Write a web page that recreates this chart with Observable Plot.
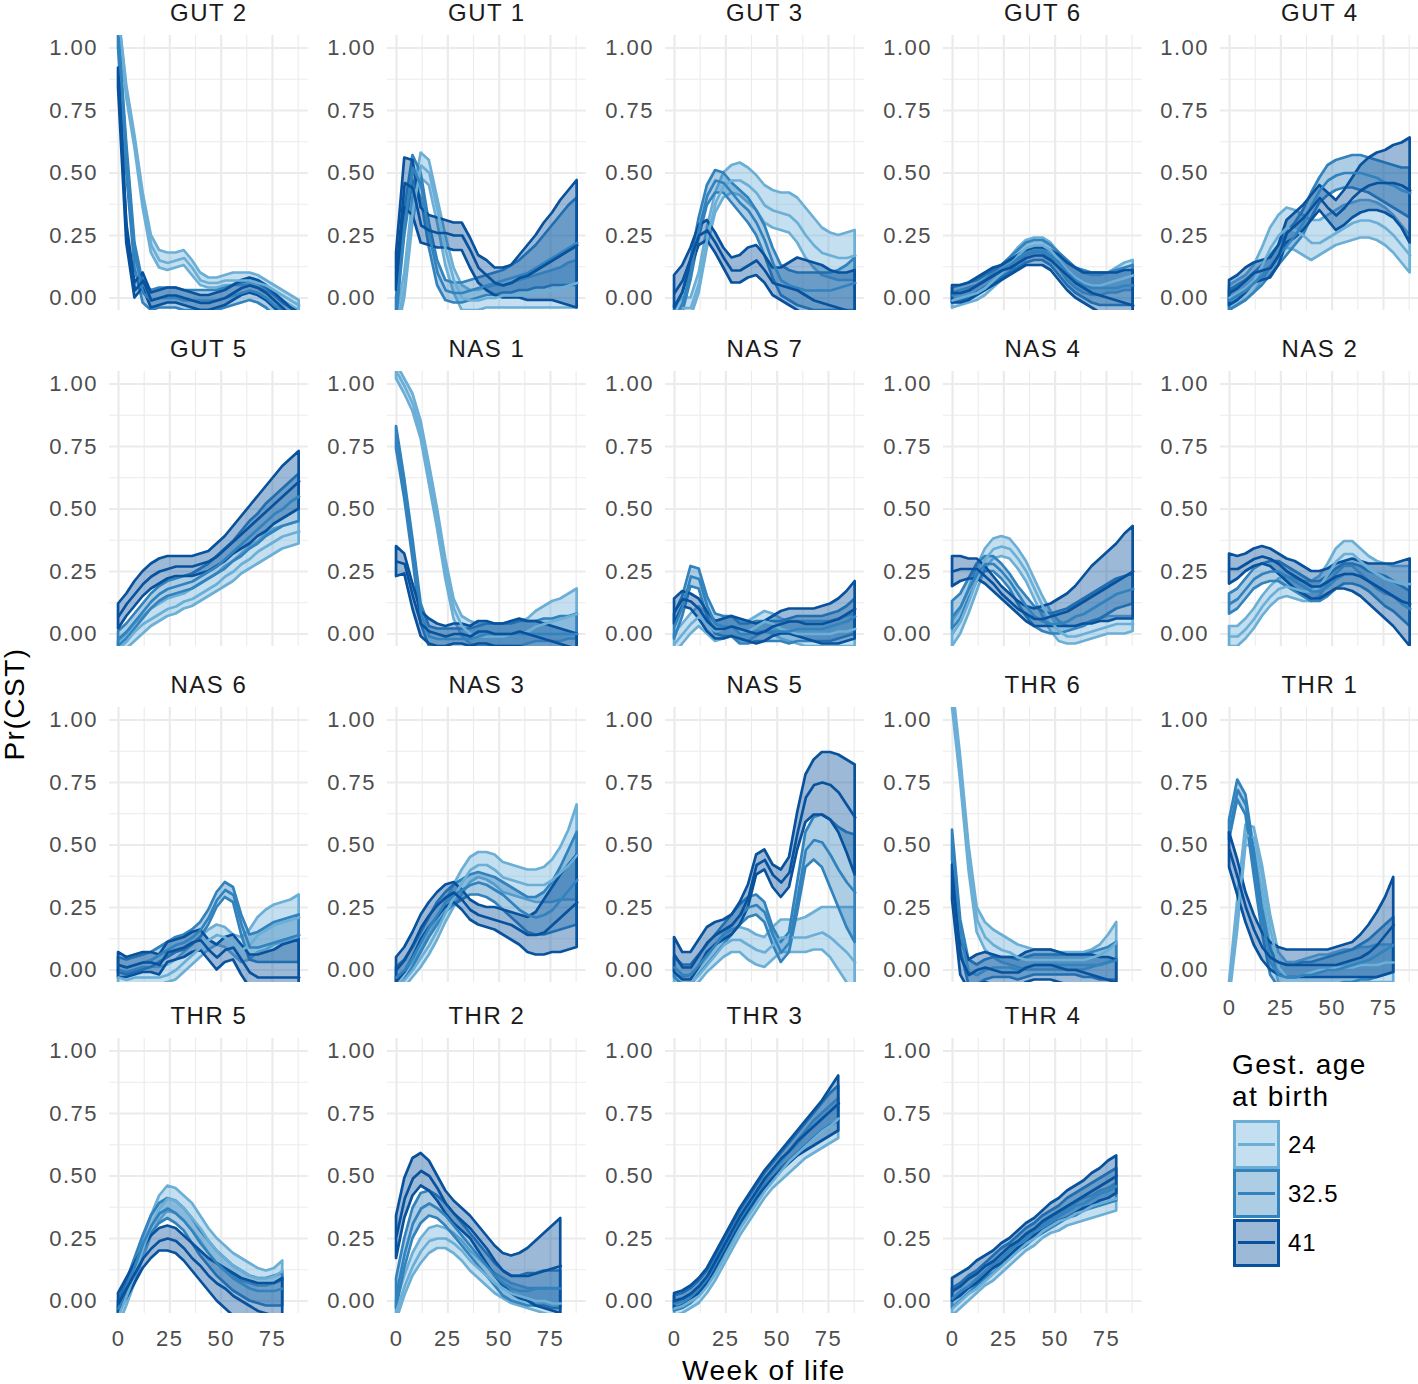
<!DOCTYPE html>
<html><head><meta charset="utf-8">
<script src="https://cdn.jsdelivr.net/npm/d3@7"></script>
<script src="https://cdn.jsdelivr.net/npm/@observablehq/plot@0.6"></script>
<style>
body{margin:0;background:#fff;}
#wrap{position:relative;width:1418px;height:1384px;overflow:hidden;background:#fff;font-family:"Liberation Sans",Arial,sans-serif;}
.abs{position:absolute;}
.abs svg{max-width:none !important;}
.ttl{font-size:28px;line-height:24px;letter-spacing:1.5px;color:#000;white-space:nowrap;}
.leg{font-size:28px;line-height:32px;letter-spacing:1.5px;color:#000;white-space:nowrap;}
.lab{font-size:24px;line-height:24px;letter-spacing:1px;color:#000;white-space:nowrap;}
</style></head><body><div id="wrap"></div>
<script>
// ---------- data ----------
const weeksGN = [0,4,8,12,16,20,24,28,32,36,40,44,48,52,56,60,64,68,72,76,80,84,88];
const weeksTHR = [0,4,8,12,16,20,24,28,32,36,40,44,48,52,56,60,64,68,72,76,80];
const groups = ["24","32.5","41"];
const groupColors = ["#6baed6","#3182bd","#08519c"];
const yTicks = [0,0.25,0.5,0.75,1];
const yMinor = [0.125,0.375,0.625,0.875];
const xTicks = [0,25,50,75];
const xMinor = [12.5,37.5,62.5,87.5];
// each panel: [hi24, mid24, lo24, hi32.5, mid32.5, lo32.5, hi41, mid41, lo41]
const GUT_2 = [
[1.15,0.85,0.65,0.42,0.25,0.19,0.18,0.18,0.19,0.15,0.10,0.08,0.08,0.09,0.10,0.10,0.10,0.09,0.07,0.05,0.03,0.01,-0.01],
[1.12,0.82,0.62,0.39,0.21,0.15,0.14,0.15,0.16,0.12,0.07,0.06,0.06,0.07,0.07,0.07,0.07,0.06,0.05,0.03,0.01,-0.01,-0.03],
[1.10,0.80,0.60,0.36,0.18,0.12,0.11,0.12,0.13,0.09,0.05,0.04,0.04,0.05,0.05,0.05,0.05,0.04,0.03,0.01,-0.01,-0.03,-0.05],
[1.08,0.62,0.22,0.06,0.03,0.04,0.04,0.04,0.03,0.03,0.03,0.03,0.03,0.04,0.05,0.06,0.07,0.06,0.04,0.01,-0.02,-0.04,-0.06],
[1.04,0.56,0.17,0.02,-0.01,0.00,0.00,0.00,-0.01,-0.01,-0.01,-0.01,-0.01,0.00,0.01,0.02,0.03,0.02,0.00,-0.03,-0.05,-0.07,-0.09],
[1.00,0.50,0.12,-0.02,-0.05,-0.04,-0.04,-0.04,-0.05,-0.05,-0.05,-0.05,-0.05,-0.04,-0.03,-0.02,-0.01,-0.02,-0.04,-0.07,-0.09,-0.11,-0.13],
[0.92,0.30,0.06,0.10,0.02,0.03,0.04,0.04,0.03,0.02,0.01,0.01,0.02,0.03,0.05,0.07,0.08,0.07,0.05,0.02,-0.01,-0.04,-0.06],
[0.88,0.26,0.03,0.07,-0.01,0.00,0.01,0.01,0.00,-0.01,-0.02,-0.02,-0.01,0.00,0.02,0.04,0.05,0.04,0.02,-0.01,-0.04,-0.07,-0.09],
[0.84,0.22,0.00,0.04,-0.04,-0.03,-0.02,-0.02,-0.03,-0.04,-0.05,-0.05,-0.04,-0.03,-0.01,0.01,0.02,0.01,-0.01,-0.04,-0.07,-0.10,-0.12]];
const GUT_1 = [
[-0.08,0.10,0.40,0.58,0.55,0.40,0.25,0.12,0.05,0.03,0.03,0.04,0.05,0.05,0.06,0.07,0.08,0.09,0.10,0.11,0.12,0.14,0.15],
[-0.12,0.05,0.35,0.53,0.50,0.35,0.19,0.07,0.00,-0.01,-0.01,0.00,0.00,0.01,0.01,0.01,0.02,0.02,0.03,0.03,0.04,0.05,0.06],
[-0.16,0.00,0.30,0.48,0.45,0.30,0.13,0.02,-0.05,-0.05,-0.05,-0.04,-0.04,-0.04,-0.04,-0.04,-0.04,-0.04,-0.04,-0.04,-0.04,-0.04,-0.04],
[0.00,0.35,0.57,0.50,0.30,0.15,0.07,0.06,0.06,0.07,0.08,0.09,0.10,0.11,0.13,0.15,0.18,0.21,0.25,0.29,0.33,0.37,0.40],
[-0.04,0.30,0.52,0.45,0.25,0.10,0.03,0.02,0.02,0.03,0.04,0.05,0.06,0.07,0.08,0.09,0.10,0.12,0.14,0.16,0.18,0.20,0.22],
[-0.08,0.25,0.47,0.40,0.20,0.05,-0.01,-0.02,-0.02,-0.01,0.00,0.01,0.01,0.02,0.02,0.03,0.03,0.04,0.04,0.05,0.05,0.05,0.05],
[0.18,0.56,0.55,0.36,0.33,0.32,0.31,0.30,0.30,0.24,0.17,0.15,0.12,0.12,0.13,0.17,0.21,0.25,0.30,0.34,0.39,0.43,0.47],
[0.10,0.46,0.44,0.29,0.27,0.26,0.26,0.25,0.25,0.19,0.12,0.09,0.06,0.05,0.06,0.08,0.09,0.11,0.13,0.15,0.17,0.19,0.21],
[0.03,0.36,0.33,0.22,0.21,0.20,0.20,0.19,0.19,0.12,0.06,0.03,0.01,0.00,0.00,0.00,-0.01,-0.01,-0.01,-0.01,-0.02,-0.03,-0.04]];
const GUT_3 = [
[-0.03,0.00,0.00,0.10,0.28,0.42,0.50,0.53,0.54,0.52,0.49,0.45,0.43,0.42,0.42,0.40,0.36,0.32,0.28,0.26,0.25,0.26,0.27],
[-0.07,-0.04,-0.04,0.06,0.24,0.38,0.45,0.47,0.47,0.45,0.42,0.37,0.35,0.34,0.33,0.30,0.25,0.21,0.18,0.17,0.16,0.16,0.17],
[-0.11,-0.08,-0.08,0.02,0.20,0.34,0.40,0.42,0.41,0.38,0.35,0.30,0.28,0.27,0.26,0.22,0.16,0.12,0.09,0.08,0.07,0.07,0.07],
[-0.05,0.02,0.15,0.32,0.45,0.51,0.50,0.46,0.43,0.40,0.35,0.29,0.20,0.13,0.11,0.10,0.10,0.10,0.10,0.10,0.11,0.13,0.16],
[-0.09,-0.02,0.11,0.28,0.41,0.47,0.46,0.42,0.38,0.35,0.30,0.23,0.14,0.07,0.05,0.04,0.03,0.03,0.03,0.03,0.04,0.05,0.06],
[-0.13,-0.06,0.07,0.24,0.37,0.42,0.42,0.38,0.34,0.30,0.25,0.17,0.08,0.01,-0.01,-0.03,-0.04,-0.05,-0.05,-0.05,-0.05,-0.05,-0.05],
[0.09,0.13,0.20,0.29,0.31,0.26,0.20,0.16,0.17,0.20,0.21,0.17,0.12,0.12,0.14,0.16,0.15,0.14,0.13,0.11,0.10,0.10,0.11],
[0.02,0.07,0.16,0.25,0.27,0.22,0.16,0.11,0.11,0.13,0.15,0.11,0.06,0.05,0.04,0.03,0.01,-0.01,-0.02,-0.03,-0.04,-0.05,-0.06],
[-0.04,0.02,0.12,0.21,0.23,0.18,0.12,0.06,0.06,0.08,0.09,0.06,0.01,-0.01,-0.03,-0.05,-0.07,-0.09,-0.10,-0.12,-0.13,-0.15,-0.16]];
const GUT_6 = [
[0.02,0.03,0.04,0.05,0.07,0.10,0.13,0.16,0.20,0.23,0.24,0.24,0.22,0.18,0.15,0.12,0.10,0.09,0.09,0.10,0.12,0.14,0.15],
[-0.01,0.00,0.01,0.02,0.04,0.07,0.10,0.13,0.17,0.20,0.21,0.21,0.19,0.15,0.11,0.08,0.06,0.05,0.05,0.06,0.07,0.08,0.09],
[-0.04,-0.03,-0.02,-0.01,0.01,0.04,0.07,0.10,0.14,0.17,0.18,0.18,0.16,0.12,0.07,0.04,0.02,0.01,0.01,0.02,0.02,0.03,0.03],
[0.04,0.05,0.06,0.07,0.09,0.11,0.13,0.16,0.19,0.22,0.23,0.23,0.21,0.18,0.15,0.12,0.11,0.10,0.10,0.10,0.11,0.12,0.13],
[0.01,0.02,0.03,0.05,0.07,0.09,0.11,0.13,0.16,0.18,0.19,0.19,0.17,0.14,0.10,0.07,0.05,0.04,0.04,0.04,0.04,0.05,0.05],
[-0.02,-0.01,0.00,0.02,0.04,0.06,0.08,0.10,0.12,0.14,0.15,0.15,0.13,0.09,0.05,0.02,0.00,-0.02,-0.03,-0.03,-0.03,-0.03,-0.03],
[0.05,0.05,0.06,0.08,0.10,0.12,0.13,0.15,0.17,0.19,0.20,0.20,0.19,0.17,0.14,0.12,0.10,0.10,0.10,0.10,0.10,0.11,0.11],
[0.02,0.02,0.03,0.05,0.07,0.09,0.11,0.12,0.14,0.16,0.17,0.17,0.15,0.12,0.09,0.06,0.04,0.02,0.01,0.00,-0.01,-0.02,-0.03],
[-0.02,-0.02,-0.01,0.01,0.03,0.05,0.07,0.09,0.11,0.13,0.13,0.13,0.11,0.07,0.03,0.00,-0.02,-0.04,-0.06,-0.08,-0.10,-0.12,-0.14]];
const GUT_4 = [
[0.05,0.07,0.09,0.13,0.20,0.28,0.33,0.36,0.35,0.33,0.31,0.31,0.33,0.35,0.37,0.38,0.39,0.39,0.38,0.36,0.33,0.29,0.25],
[0.00,0.02,0.04,0.07,0.13,0.20,0.25,0.28,0.27,0.25,0.22,0.22,0.24,0.26,0.28,0.30,0.31,0.31,0.30,0.28,0.25,0.21,0.17],
[-0.05,-0.03,-0.01,0.02,0.07,0.12,0.17,0.20,0.19,0.17,0.15,0.17,0.19,0.21,0.22,0.23,0.24,0.24,0.23,0.21,0.18,0.14,0.10],
[0.03,0.05,0.07,0.10,0.13,0.17,0.21,0.26,0.30,0.35,0.42,0.48,0.53,0.55,0.56,0.57,0.57,0.56,0.55,0.54,0.53,0.52,0.52],
[-0.01,0.01,0.03,0.06,0.09,0.13,0.17,0.21,0.25,0.30,0.37,0.43,0.47,0.49,0.50,0.50,0.50,0.49,0.48,0.46,0.45,0.43,0.42],
[-0.05,-0.03,-0.01,0.02,0.05,0.09,0.13,0.17,0.21,0.25,0.32,0.38,0.41,0.43,0.44,0.44,0.43,0.42,0.40,0.38,0.36,0.34,0.32],
[0.07,0.09,0.12,0.14,0.15,0.16,0.21,0.31,0.34,0.37,0.41,0.45,0.42,0.39,0.43,0.48,0.53,0.56,0.58,0.59,0.61,0.62,0.64],
[0.02,0.04,0.07,0.10,0.11,0.12,0.17,0.26,0.29,0.32,0.36,0.40,0.36,0.33,0.36,0.40,0.43,0.45,0.46,0.46,0.46,0.45,0.43],
[-0.03,-0.01,0.02,0.06,0.07,0.08,0.13,0.22,0.24,0.27,0.31,0.35,0.31,0.27,0.29,0.32,0.34,0.35,0.35,0.34,0.32,0.28,0.22]];
const GUT_5 = [
[-0.03,0.00,0.04,0.07,0.10,0.12,0.14,0.15,0.16,0.18,0.20,0.22,0.24,0.27,0.29,0.32,0.35,0.37,0.40,0.42,0.43,0.44,0.45],
[-0.06,-0.03,0.01,0.04,0.06,0.08,0.10,0.11,0.13,0.14,0.16,0.18,0.20,0.23,0.25,0.28,0.30,0.33,0.35,0.37,0.39,0.40,0.41],
[-0.09,-0.06,-0.03,0.00,0.03,0.05,0.07,0.08,0.10,0.11,0.13,0.15,0.17,0.19,0.21,0.24,0.26,0.28,0.30,0.32,0.34,0.35,0.36],
[0.01,0.04,0.08,0.12,0.16,0.19,0.21,0.22,0.23,0.24,0.26,0.28,0.31,0.34,0.37,0.41,0.45,0.48,0.52,0.55,0.58,0.61,0.64],
[-0.02,0.01,0.05,0.09,0.13,0.16,0.18,0.19,0.20,0.21,0.23,0.25,0.27,0.30,0.33,0.36,0.39,0.42,0.45,0.48,0.50,0.53,0.55],
[-0.05,-0.02,0.02,0.06,0.10,0.13,0.15,0.16,0.17,0.18,0.20,0.22,0.24,0.26,0.29,0.31,0.34,0.36,0.39,0.41,0.43,0.44,0.45],
[0.12,0.16,0.21,0.25,0.28,0.30,0.31,0.31,0.31,0.31,0.32,0.33,0.36,0.39,0.43,0.47,0.51,0.55,0.59,0.63,0.67,0.70,0.73],
[0.07,0.12,0.16,0.20,0.23,0.25,0.26,0.27,0.27,0.27,0.28,0.29,0.31,0.34,0.37,0.40,0.43,0.46,0.49,0.52,0.55,0.58,0.61],
[0.02,0.07,0.11,0.15,0.18,0.20,0.22,0.23,0.23,0.23,0.24,0.25,0.27,0.29,0.32,0.34,0.36,0.39,0.41,0.44,0.46,0.48,0.50]];
const NAS_1 = [
[1.08,1.02,0.96,0.85,0.68,0.50,0.30,0.14,0.07,0.05,0.04,0.04,0.04,0.04,0.05,0.05,0.06,0.09,0.11,0.13,0.14,0.16,0.18],
[1.05,0.99,0.92,0.81,0.64,0.46,0.26,0.10,0.03,0.00,-0.01,-0.01,-0.01,-0.01,0.00,0.00,0.01,0.03,0.04,0.05,0.06,0.07,0.08],
[1.02,0.96,0.89,0.78,0.60,0.42,0.22,0.06,-0.01,-0.04,-0.05,-0.06,-0.06,-0.06,-0.05,-0.05,-0.04,-0.03,-0.03,-0.03,-0.03,-0.02,-0.02],
[0.83,0.62,0.38,0.12,0.03,0.02,0.02,0.02,0.02,0.02,0.03,0.04,0.04,0.04,0.04,0.05,0.05,0.05,0.06,0.06,0.07,0.07,0.08],
[0.79,0.58,0.34,0.08,-0.01,-0.02,-0.02,-0.02,-0.02,-0.02,-0.01,0.00,0.00,0.00,0.00,0.00,0.00,0.00,0.00,0.00,0.00,0.00,0.00],
[0.74,0.54,0.30,0.04,-0.05,-0.06,-0.06,-0.06,-0.06,-0.06,-0.05,-0.05,-0.05,-0.05,-0.05,-0.06,-0.06,-0.07,-0.07,-0.08,-0.08,-0.09,-0.09],
[0.35,0.32,0.20,0.09,0.06,0.04,0.03,0.04,0.04,0.03,0.05,0.05,0.04,0.04,0.05,0.06,0.05,0.05,0.04,0.03,0.02,0.01,0.00],
[0.29,0.28,0.15,0.04,0.01,0.00,-0.01,0.00,0.00,-0.01,0.01,0.01,0.00,0.00,0.00,0.01,0.00,-0.01,-0.02,-0.03,-0.04,-0.05,-0.06],
[0.23,0.24,0.10,-0.01,-0.04,-0.05,-0.05,-0.04,-0.04,-0.05,-0.04,-0.04,-0.05,-0.05,-0.05,-0.05,-0.06,-0.07,-0.08,-0.09,-0.10,-0.11,-0.12]];
const NAS_7 = [
[0.00,0.04,0.08,0.11,0.08,0.05,0.06,0.07,0.05,0.05,0.07,0.09,0.08,0.06,0.05,0.05,0.05,0.05,0.05,0.05,0.06,0.07,0.08],
[-0.04,0.00,0.04,0.07,0.04,0.01,0.02,0.03,0.01,0.01,0.03,0.05,0.04,0.02,0.01,0.00,0.00,0.00,0.00,0.00,0.01,0.01,0.02],
[-0.08,-0.04,0.00,0.03,0.00,-0.03,-0.02,-0.01,-0.03,-0.03,-0.01,0.01,0.00,-0.02,-0.03,-0.04,-0.05,-0.05,-0.05,-0.05,-0.05,-0.05,-0.05],
[0.08,0.15,0.27,0.26,0.15,0.08,0.07,0.07,0.04,0.04,0.05,0.05,0.05,0.05,0.06,0.07,0.07,0.07,0.07,0.08,0.09,0.11,0.14],
[0.03,0.11,0.23,0.22,0.11,0.04,0.03,0.03,0.00,0.00,0.01,0.01,0.01,0.01,0.01,0.02,0.02,0.02,0.02,0.03,0.04,0.05,0.07],
[-0.02,0.07,0.19,0.18,0.07,0.00,-0.01,-0.01,-0.04,-0.04,-0.03,-0.03,-0.03,-0.03,-0.04,-0.03,-0.03,-0.03,-0.03,-0.03,-0.02,-0.01,0.00],
[0.14,0.17,0.16,0.14,0.09,0.05,0.06,0.07,0.06,0.05,0.04,0.05,0.07,0.09,0.10,0.10,0.10,0.10,0.11,0.12,0.14,0.17,0.21],
[0.09,0.14,0.13,0.10,0.05,0.02,0.02,0.03,0.02,0.01,0.00,0.01,0.03,0.04,0.05,0.05,0.04,0.04,0.04,0.05,0.06,0.08,0.10],
[0.04,0.11,0.10,0.06,0.01,-0.02,-0.02,-0.01,-0.02,-0.03,-0.04,-0.03,-0.01,0.00,0.00,-0.01,-0.02,-0.03,-0.04,-0.04,-0.04,-0.03,-0.02]];
const NAS_4 = [
[0.05,0.10,0.18,0.27,0.34,0.38,0.39,0.38,0.34,0.29,0.22,0.15,0.09,0.05,0.03,0.03,0.04,0.05,0.06,0.07,0.07,0.07,0.07],
[0.00,0.05,0.13,0.22,0.30,0.34,0.35,0.34,0.30,0.25,0.18,0.11,0.05,0.01,-0.01,-0.01,0.00,0.01,0.02,0.03,0.04,0.04,0.04],
[-0.05,0.00,0.08,0.17,0.26,0.30,0.31,0.30,0.26,0.21,0.14,0.07,0.01,-0.03,-0.04,-0.04,-0.03,-0.02,-0.01,0.00,0.00,0.00,0.01],
[0.13,0.16,0.22,0.28,0.31,0.31,0.28,0.24,0.19,0.15,0.11,0.09,0.08,0.09,0.10,0.12,0.14,0.16,0.18,0.20,0.22,0.23,0.24],
[0.07,0.11,0.18,0.24,0.28,0.28,0.25,0.21,0.16,0.11,0.07,0.05,0.04,0.04,0.05,0.07,0.08,0.10,0.12,0.14,0.16,0.17,0.18],
[0.02,0.06,0.14,0.21,0.25,0.25,0.22,0.18,0.12,0.07,0.03,0.01,0.00,0.00,0.01,0.02,0.03,0.05,0.06,0.08,0.10,0.11,0.12],
[0.31,0.31,0.30,0.30,0.27,0.23,0.19,0.16,0.13,0.11,0.10,0.11,0.12,0.14,0.16,0.19,0.23,0.27,0.30,0.33,0.36,0.40,0.43],
[0.25,0.26,0.26,0.26,0.23,0.20,0.16,0.13,0.10,0.08,0.06,0.06,0.07,0.08,0.09,0.11,0.13,0.15,0.17,0.19,0.21,0.23,0.25],
[0.19,0.21,0.22,0.22,0.20,0.17,0.14,0.11,0.08,0.05,0.03,0.03,0.03,0.03,0.03,0.03,0.04,0.04,0.05,0.05,0.06,0.06,0.06]];
const NAS_2 = [
[0.03,0.03,0.06,0.10,0.15,0.19,0.22,0.23,0.22,0.21,0.21,0.23,0.28,0.34,0.37,0.37,0.34,0.31,0.29,0.28,0.27,0.27,0.27],
[-0.01,-0.01,0.02,0.06,0.11,0.15,0.18,0.19,0.18,0.17,0.17,0.19,0.24,0.29,0.32,0.32,0.29,0.26,0.24,0.22,0.21,0.20,0.20],
[-0.05,-0.05,-0.02,0.02,0.07,0.11,0.14,0.15,0.14,0.13,0.13,0.15,0.20,0.24,0.27,0.27,0.24,0.21,0.18,0.16,0.15,0.13,0.12],
[0.16,0.18,0.22,0.26,0.28,0.29,0.29,0.27,0.25,0.23,0.21,0.21,0.23,0.26,0.28,0.28,0.27,0.25,0.24,0.23,0.21,0.19,0.17],
[0.12,0.14,0.18,0.22,0.24,0.25,0.25,0.23,0.21,0.19,0.17,0.17,0.19,0.22,0.24,0.24,0.23,0.21,0.19,0.17,0.15,0.12,0.10],
[0.08,0.10,0.14,0.18,0.20,0.21,0.21,0.19,0.17,0.15,0.13,0.13,0.15,0.18,0.20,0.20,0.19,0.17,0.14,0.11,0.09,0.06,0.03],
[0.32,0.31,0.32,0.34,0.35,0.34,0.32,0.30,0.29,0.27,0.25,0.25,0.26,0.28,0.29,0.30,0.29,0.28,0.28,0.28,0.28,0.29,0.30],
[0.26,0.26,0.28,0.30,0.31,0.30,0.28,0.25,0.23,0.21,0.19,0.19,0.21,0.23,0.24,0.24,0.23,0.21,0.19,0.17,0.15,0.13,0.12],
[0.20,0.22,0.25,0.27,0.28,0.27,0.24,0.21,0.18,0.16,0.14,0.14,0.16,0.18,0.18,0.17,0.15,0.12,0.09,0.06,0.03,-0.01,-0.05]];
const NAS_6 = [
[0.00,-0.01,0.00,0.01,0.01,0.01,0.02,0.04,0.07,0.10,0.13,0.16,0.18,0.17,0.14,0.13,0.16,0.21,0.24,0.26,0.27,0.28,0.30],
[-0.03,-0.04,-0.03,-0.03,-0.03,-0.03,-0.02,0.00,0.03,0.06,0.09,0.12,0.14,0.13,0.10,0.08,0.10,0.14,0.16,0.18,0.19,0.20,0.21],
[-0.06,-0.07,-0.06,-0.06,-0.06,-0.06,-0.05,-0.04,-0.01,0.02,0.05,0.08,0.10,0.09,0.06,0.03,0.04,0.07,0.08,0.10,0.11,0.12,0.12],
[0.05,0.04,0.05,0.06,0.07,0.09,0.11,0.13,0.14,0.16,0.19,0.24,0.31,0.35,0.33,0.22,0.14,0.15,0.17,0.19,0.20,0.21,0.22],
[0.02,0.01,0.02,0.03,0.04,0.06,0.08,0.10,0.11,0.13,0.16,0.21,0.28,0.32,0.30,0.18,0.09,0.09,0.10,0.11,0.12,0.13,0.14],
[-0.01,-0.02,-0.01,0.00,0.01,0.03,0.05,0.07,0.08,0.10,0.13,0.18,0.25,0.29,0.27,0.14,0.04,0.03,0.03,0.03,0.03,0.03,0.03],
[0.07,0.05,0.06,0.07,0.07,0.06,0.11,0.12,0.13,0.15,0.16,0.12,0.10,0.13,0.14,0.10,0.06,0.06,0.07,0.08,0.10,0.11,0.12],
[0.02,0.01,0.02,0.03,0.03,0.02,0.07,0.08,0.09,0.11,0.12,0.08,0.05,0.08,0.09,0.04,-0.01,-0.03,-0.03,-0.03,-0.03,-0.03,-0.03],
[-0.03,-0.03,-0.02,-0.01,-0.01,-0.02,0.03,0.04,0.05,0.07,0.08,0.04,0.00,0.03,0.04,-0.02,-0.07,-0.10,-0.12,-0.14,-0.16,-0.18,-0.20]];
const NAS_3 = [
[-0.03,-0.01,0.03,0.08,0.14,0.20,0.27,0.34,0.40,0.45,0.47,0.47,0.46,0.43,0.42,0.41,0.40,0.40,0.41,0.44,0.49,0.56,0.66],
[-0.06,-0.04,0.00,0.05,0.10,0.16,0.23,0.29,0.35,0.40,0.42,0.42,0.40,0.37,0.36,0.35,0.34,0.34,0.34,0.36,0.39,0.42,0.46],
[-0.09,-0.07,-0.03,0.01,0.06,0.12,0.19,0.25,0.30,0.35,0.37,0.36,0.34,0.31,0.30,0.29,0.28,0.27,0.27,0.27,0.28,0.28,0.28],
[0.01,0.04,0.09,0.15,0.21,0.27,0.31,0.34,0.36,0.38,0.39,0.38,0.37,0.35,0.33,0.31,0.29,0.29,0.31,0.35,0.41,0.48,0.55],
[-0.03,0.00,0.05,0.11,0.17,0.22,0.27,0.30,0.32,0.34,0.35,0.34,0.32,0.30,0.27,0.24,0.22,0.21,0.22,0.24,0.28,0.32,0.36],
[-0.07,-0.04,0.01,0.07,0.13,0.18,0.23,0.26,0.28,0.30,0.30,0.29,0.27,0.24,0.21,0.18,0.15,0.14,0.14,0.15,0.16,0.17,0.18],
[0.05,0.09,0.15,0.22,0.27,0.31,0.34,0.35,0.32,0.28,0.26,0.25,0.25,0.24,0.23,0.22,0.21,0.23,0.28,0.33,0.38,0.42,0.46],
[0.00,0.04,0.10,0.17,0.22,0.26,0.29,0.31,0.28,0.24,0.22,0.21,0.20,0.19,0.18,0.16,0.14,0.14,0.15,0.18,0.21,0.24,0.27],
[-0.05,-0.01,0.05,0.12,0.17,0.21,0.25,0.27,0.24,0.20,0.18,0.17,0.16,0.14,0.12,0.10,0.07,0.06,0.06,0.07,0.07,0.08,0.09]];
const NAS_5 = [
[-0.02,-0.03,-0.02,0.01,0.05,0.10,0.14,0.16,0.17,0.16,0.14,0.13,0.17,0.20,0.20,0.20,0.21,0.23,0.25,0.25,0.25,0.25,0.25],
[-0.05,-0.06,-0.05,-0.02,0.02,0.06,0.10,0.12,0.12,0.10,0.08,0.07,0.10,0.13,0.13,0.13,0.13,0.14,0.15,0.13,0.10,0.07,0.03],
[-0.08,-0.09,-0.08,-0.05,-0.01,0.02,0.05,0.07,0.07,0.04,0.02,0.01,0.04,0.07,0.07,0.07,0.07,0.08,0.08,0.05,0.00,-0.05,-0.10],
[0.05,0.02,0.02,0.06,0.10,0.14,0.18,0.22,0.26,0.29,0.30,0.27,0.17,0.11,0.15,0.35,0.55,0.61,0.62,0.60,0.57,0.55,0.54],
[0.01,-0.02,-0.02,0.02,0.06,0.10,0.14,0.18,0.22,0.25,0.26,0.23,0.14,0.07,0.11,0.29,0.48,0.52,0.51,0.46,0.40,0.35,0.31],
[-0.03,-0.06,-0.06,-0.02,0.02,0.06,0.10,0.14,0.18,0.21,0.22,0.19,0.10,0.03,0.07,0.23,0.41,0.44,0.41,0.33,0.25,0.17,0.11],
[0.13,0.07,0.07,0.12,0.17,0.19,0.20,0.22,0.27,0.34,0.46,0.48,0.42,0.40,0.45,0.63,0.78,0.84,0.87,0.87,0.86,0.84,0.82],
[0.06,0.01,0.01,0.06,0.11,0.14,0.16,0.18,0.22,0.29,0.42,0.44,0.38,0.35,0.39,0.55,0.69,0.74,0.75,0.74,0.71,0.66,0.61],
[-0.01,-0.04,-0.04,0.01,0.07,0.10,0.12,0.14,0.18,0.25,0.38,0.40,0.33,0.29,0.33,0.48,0.59,0.62,0.62,0.60,0.55,0.47,0.38]];
const THR_6 = [
[1.15,0.85,0.50,0.25,0.19,0.16,0.14,0.12,0.10,0.09,0.08,0.08,0.08,0.07,0.07,0.07,0.07,0.08,0.10,0.14,0.19],
[1.10,0.80,0.45,0.20,0.13,0.10,0.08,0.07,0.05,0.04,0.04,0.04,0.04,0.04,0.04,0.04,0.04,0.05,0.06,0.08,0.11],
[1.05,0.75,0.40,0.15,0.08,0.05,0.03,0.02,0.01,0.00,0.00,0.00,0.00,0.00,0.00,0.00,0.00,0.01,0.02,0.03,0.04],
[0.56,0.20,0.04,0.02,0.04,0.05,0.05,0.05,0.04,0.05,0.06,0.06,0.06,0.06,0.06,0.06,0.06,0.07,0.08,0.09,0.11],
[0.50,0.14,-0.01,-0.02,0.00,0.01,0.01,0.01,0.00,0.01,0.02,0.02,0.02,0.02,0.02,0.02,0.02,0.02,0.02,0.03,0.04],
[0.44,0.08,-0.06,-0.06,-0.04,-0.03,-0.03,-0.03,-0.04,-0.03,-0.02,-0.02,-0.02,-0.02,-0.02,-0.02,-0.03,-0.03,-0.04,-0.04,-0.04],
[0.42,0.12,0.04,0.06,0.07,0.06,0.05,0.05,0.05,0.07,0.08,0.08,0.08,0.07,0.06,0.06,0.06,0.06,0.05,0.05,0.04],
[0.35,0.05,-0.02,0.00,0.01,0.00,-0.01,-0.01,-0.01,0.01,0.02,0.02,0.02,0.01,0.00,0.00,-0.01,-0.02,-0.03,-0.04,-0.05],
[0.28,-0.02,-0.08,-0.06,-0.05,-0.06,-0.07,-0.07,-0.07,-0.05,-0.04,-0.04,-0.04,-0.05,-0.06,-0.07,-0.08,-0.10,-0.11,-0.13,-0.14]];
const THR_1 = [
[-0.05,0.28,0.58,0.57,0.42,0.22,0.07,0.03,0.03,0.04,0.05,0.06,0.06,0.07,0.08,0.08,0.09,0.09,0.10,0.10,0.10],
[-0.08,0.22,0.54,0.53,0.37,0.16,0.01,-0.03,-0.03,-0.02,-0.01,0.00,0.00,0.01,0.01,0.01,0.02,0.02,0.02,0.03,0.03],
[-0.12,0.16,0.50,0.49,0.32,0.10,-0.05,-0.09,-0.09,-0.08,-0.07,-0.06,-0.06,-0.06,-0.06,-0.06,-0.05,-0.05,-0.05,-0.05,-0.05],
[0.60,0.76,0.70,0.48,0.25,0.08,0.03,0.02,0.02,0.03,0.03,0.04,0.05,0.06,0.07,0.08,0.10,0.12,0.15,0.18,0.21],
[0.56,0.72,0.66,0.43,0.20,0.03,-0.02,-0.03,-0.03,-0.02,-0.02,-0.01,0.00,0.00,0.01,0.02,0.03,0.04,0.06,0.08,0.10],
[0.52,0.68,0.62,0.38,0.15,-0.02,-0.07,-0.08,-0.08,-0.07,-0.07,-0.06,-0.06,-0.06,-0.05,-0.05,-0.04,-0.04,-0.03,-0.02,-0.01],
[0.55,0.44,0.31,0.22,0.15,0.11,0.09,0.08,0.08,0.08,0.08,0.08,0.08,0.09,0.10,0.11,0.14,0.18,0.23,0.29,0.37],
[0.48,0.37,0.25,0.16,0.09,0.05,0.03,0.02,0.02,0.02,0.02,0.02,0.02,0.02,0.03,0.04,0.05,0.07,0.10,0.14,0.18],
[0.41,0.30,0.19,0.10,0.04,0.00,-0.02,-0.03,-0.03,-0.03,-0.03,-0.03,-0.03,-0.03,-0.03,-0.03,-0.03,-0.03,-0.03,-0.02,-0.01]];
const THR_5 = [
[-0.02,0.06,0.15,0.25,0.34,0.42,0.46,0.45,0.42,0.39,0.34,0.29,0.25,0.22,0.19,0.17,0.15,0.13,0.12,0.13,0.16],
[-0.06,0.02,0.11,0.21,0.30,0.37,0.41,0.40,0.37,0.33,0.29,0.24,0.20,0.17,0.14,0.12,0.10,0.09,0.09,0.10,0.12],
[-0.10,-0.02,0.07,0.17,0.26,0.32,0.36,0.35,0.32,0.28,0.24,0.19,0.15,0.12,0.10,0.08,0.07,0.06,0.06,0.07,0.08],
[0.00,0.08,0.17,0.26,0.34,0.39,0.41,0.40,0.37,0.33,0.28,0.24,0.20,0.17,0.14,0.12,0.10,0.09,0.09,0.10,0.11],
[-0.03,0.05,0.14,0.23,0.30,0.35,0.37,0.35,0.32,0.28,0.23,0.19,0.15,0.12,0.09,0.07,0.05,0.04,0.04,0.04,0.05],
[-0.06,0.02,0.11,0.20,0.27,0.31,0.33,0.31,0.28,0.23,0.18,0.14,0.10,0.07,0.04,0.02,0.00,-0.01,-0.02,-0.02,-0.02],
[0.03,0.09,0.15,0.21,0.26,0.29,0.30,0.29,0.26,0.23,0.20,0.17,0.15,0.13,0.11,0.09,0.08,0.07,0.07,0.07,0.09],
[-0.01,0.05,0.11,0.17,0.21,0.24,0.25,0.24,0.21,0.17,0.14,0.10,0.07,0.05,0.02,0.00,-0.02,-0.04,-0.05,-0.06,-0.07],
[-0.05,0.01,0.07,0.13,0.17,0.20,0.20,0.19,0.16,0.12,0.08,0.04,0.00,-0.03,-0.06,-0.09,-0.12,-0.14,-0.16,-0.18,-0.20]];
const THR_2 = [
[0.00,0.10,0.19,0.25,0.29,0.30,0.29,0.27,0.24,0.20,0.17,0.14,0.11,0.09,0.07,0.06,0.05,0.05,0.05,0.05,0.05],
[-0.04,0.06,0.14,0.20,0.24,0.25,0.25,0.23,0.20,0.16,0.13,0.10,0.07,0.05,0.03,0.02,0.01,0.00,0.00,-0.01,-0.01],
[-0.08,0.02,0.10,0.15,0.19,0.21,0.21,0.19,0.16,0.12,0.09,0.06,0.03,0.01,-0.01,-0.02,-0.03,-0.04,-0.05,-0.06,-0.07],
[0.09,0.25,0.37,0.43,0.44,0.42,0.39,0.35,0.31,0.27,0.23,0.19,0.15,0.12,0.10,0.10,0.11,0.11,0.12,0.12,0.12],
[0.03,0.19,0.31,0.37,0.39,0.37,0.34,0.30,0.26,0.22,0.18,0.14,0.10,0.07,0.05,0.04,0.04,0.05,0.05,0.05,0.05],
[-0.03,0.13,0.25,0.31,0.34,0.33,0.30,0.26,0.22,0.18,0.14,0.10,0.06,0.02,0.00,-0.01,-0.02,-0.02,-0.02,-0.03,-0.03],
[0.34,0.49,0.57,0.59,0.56,0.50,0.44,0.40,0.37,0.34,0.30,0.26,0.22,0.19,0.18,0.19,0.21,0.24,0.27,0.30,0.33],
[0.26,0.41,0.49,0.52,0.50,0.45,0.39,0.35,0.32,0.29,0.25,0.21,0.16,0.12,0.10,0.10,0.10,0.11,0.12,0.13,0.14],
[0.17,0.33,0.42,0.46,0.44,0.40,0.35,0.31,0.28,0.25,0.20,0.15,0.10,0.06,0.03,0.01,0.00,-0.02,-0.03,-0.04,-0.05]];
const THR_3 = [
[0.00,0.01,0.02,0.05,0.09,0.14,0.20,0.26,0.32,0.37,0.42,0.47,0.52,0.56,0.60,0.64,0.68,0.72,0.75,0.78,0.81],
[-0.03,-0.02,0.00,0.02,0.06,0.11,0.17,0.23,0.29,0.34,0.39,0.44,0.48,0.52,0.56,0.59,0.62,0.65,0.68,0.70,0.73],
[-0.06,-0.05,-0.03,-0.01,0.03,0.08,0.14,0.20,0.26,0.31,0.36,0.41,0.45,0.48,0.51,0.54,0.57,0.59,0.61,0.63,0.65],
[0.02,0.03,0.05,0.08,0.12,0.18,0.24,0.30,0.36,0.41,0.46,0.51,0.55,0.59,0.63,0.67,0.71,0.75,0.79,0.83,0.86],
[-0.01,0.00,0.02,0.05,0.09,0.15,0.21,0.27,0.33,0.38,0.43,0.48,0.52,0.56,0.60,0.63,0.67,0.70,0.73,0.76,0.79],
[-0.04,-0.03,-0.01,0.02,0.06,0.12,0.18,0.24,0.30,0.35,0.40,0.45,0.49,0.53,0.56,0.59,0.62,0.65,0.68,0.70,0.72],
[0.03,0.04,0.06,0.09,0.13,0.19,0.25,0.31,0.37,0.42,0.47,0.52,0.56,0.60,0.64,0.68,0.72,0.76,0.80,0.85,0.90],
[0.00,0.01,0.03,0.06,0.10,0.16,0.22,0.28,0.34,0.39,0.44,0.49,0.53,0.57,0.60,0.64,0.67,0.70,0.73,0.76,0.79],
[-0.03,-0.02,0.00,0.03,0.07,0.13,0.19,0.25,0.31,0.36,0.41,0.45,0.49,0.52,0.55,0.58,0.60,0.62,0.64,0.66,0.68]];
const THR_4 = [
[0.00,0.03,0.05,0.08,0.11,0.14,0.17,0.20,0.23,0.26,0.28,0.31,0.33,0.35,0.37,0.39,0.41,0.42,0.44,0.45,0.47],
[-0.03,0.00,0.03,0.05,0.08,0.11,0.14,0.17,0.20,0.23,0.25,0.28,0.30,0.32,0.33,0.35,0.36,0.38,0.39,0.40,0.41],
[-0.06,-0.03,0.00,0.03,0.06,0.08,0.11,0.14,0.17,0.20,0.22,0.25,0.27,0.28,0.30,0.31,0.32,0.33,0.34,0.35,0.36],
[0.05,0.07,0.10,0.12,0.15,0.18,0.21,0.23,0.26,0.29,0.31,0.34,0.36,0.38,0.41,0.43,0.45,0.47,0.49,0.51,0.53],
[0.01,0.04,0.06,0.09,0.12,0.15,0.17,0.20,0.23,0.25,0.28,0.30,0.32,0.34,0.36,0.38,0.39,0.41,0.43,0.44,0.46],
[-0.03,0.00,0.03,0.06,0.09,0.11,0.14,0.17,0.20,0.22,0.25,0.27,0.29,0.31,0.33,0.34,0.36,0.37,0.38,0.39,0.40],
[0.09,0.11,0.13,0.16,0.18,0.20,0.23,0.25,0.28,0.31,0.33,0.36,0.39,0.41,0.44,0.46,0.48,0.51,0.53,0.56,0.58],
[0.04,0.06,0.09,0.11,0.14,0.16,0.19,0.22,0.24,0.27,0.29,0.32,0.34,0.36,0.38,0.40,0.42,0.44,0.46,0.48,0.50],
[0.00,0.02,0.05,0.07,0.10,0.13,0.15,0.18,0.21,0.23,0.26,0.28,0.30,0.32,0.33,0.35,0.37,0.38,0.40,0.41,0.43]];

const panelNames = ["GUT 2","GUT 1","GUT 3","GUT 6","GUT 4","GUT 5","NAS 1","NAS 7","NAS 4","NAS 2",
  "NAS 6","NAS 3","NAS 5","THR 6","THR 1","THR 5","THR 2","THR 3","THR 4"];
const panelSeries = [GUT_2,GUT_1,GUT_3,GUT_6,GUT_4,GUT_5,NAS_1,NAS_7,NAS_4,NAS_2,
  NAS_6,NAS_3,NAS_5,THR_6,THR_1,THR_5,THR_2,THR_3,THR_4];

// ---------- layout ----------
const wrap = document.getElementById("wrap");
const xDomain = [-4.4, 92.4], yDomain = [-0.05, 1.05];
const FW = 198.7, FH = 275;
const colZero = c => 118.3 + c * 277.75;           // pixel of week 0
const rowTop = [34.5, 370.8, 706.8, 1037.5];
const mL = 80, mR = 8, mT = 44, mB = 48;
const pxPerWeek = FW / (xDomain[1] - xDomain[0]);

panelNames.forEach((name, i) => {
  const col = i % 5, row = Math.floor(i / 5);
  const S = panelSeries[i];
  const weeks = name.startsWith("THR") ? weeksTHR : weeksGN;
  const rows = [];
  groups.forEach((g, gi) => weeks.forEach((w, k) => rows.push({
    g, w, hi: S[gi * 3][k], mid: S[gi * 3 + 1][k], lo: S[gi * 3 + 2][k]
  })));
  const showX = i === 14 || i >= 15;
  const marks = [
    Plot.ruleX(xMinor, {stroke: "#ebebeb", strokeWidth: 1.1}),
    Plot.ruleY(yMinor, {stroke: "#ebebeb", strokeWidth: 1.1}),
    Plot.ruleX(xTicks, {stroke: "#ebebeb", strokeWidth: 2.2}),
    Plot.ruleY(yTicks, {stroke: "#ebebeb", strokeWidth: 2.2}),
    Plot.areaY(rows, {x: "w", y1: "lo", y2: "hi", z: "g", fill: "g", stroke: "g",
      fillOpacity: 0.4, strokeWidth: 2.7, strokeLinejoin: "round", clip: true}),
    Plot.lineY(rows, {x: "w", y: "mid", z: "g", stroke: "g",
      strokeWidth: 2.7, strokeLinejoin: "round", clip: true}),
    Plot.axisY(yTicks, {anchor: "left", tickSize: 0, tickPadding: 11.5, label: null,
      tickFormat: d3.format(".2f"), fontSize: 22, fill: "#4d4d4d"}),
    Plot.text([name], {frameAnchor: "top", dy: -22, lineAnchor: "middle",
      fontSize: 24, fill: "#1a1a1a"})
  ];
  if (showX) marks.push(Plot.axisX(xTicks, {anchor: "bottom", tickSize: 0, tickPadding: 17,
      label: null, fontSize: 22, fill: "#4d4d4d"}));
  const W = mL + FW + mR, H = mT + FH + mB;
  const svg = Plot.plot({
    width: W, height: H,
    marginLeft: mL, marginRight: mR, marginTop: mT, marginBottom: mB,
    x: showX ? {domain: xDomain, nice: false, label: null} : {domain: xDomain, nice: false, axis: null},
    y: {domain: yDomain, nice: false, label: null},
    color: {type: "ordinal", domain: groups, range: groupColors},
    style: {fontFamily: '"Liberation Sans", Arial, sans-serif', letterSpacing: "1.5px",
      color: "#4d4d4d", background: "transparent", overflow: "visible", maxWidth: "none"},
    marks
  });
  svg.style.maxWidth = "none";
  svg.setAttribute("width", W);
  svg.setAttribute("height", H);
  svg.style.width = W + "px";
  svg.style.height = H + "px";
  const holder = document.createElement("div");
  holder.className = "abs";
  holder.style.left = (colZero(col) - 4.4 * pxPerWeek - mL) + "px";
  holder.style.top = (rowTop[row] - mT) + "px";
  holder.style.width = W + "px";
  holder.style.height = H + "px";
  holder.appendChild(svg);
  wrap.appendChild(holder);
});

// axis titles
const yt = document.createElement("div");
yt.className = "abs ttl";
yt.textContent = "Pr(CST)";
yt.style.left = "15px"; yt.style.top = "704px";
yt.style.transform = "translate(-50%,-50%) rotate(-90deg)";
wrap.appendChild(yt);
const xt = document.createElement("div");
xt.className = "abs ttl";
xt.textContent = "Week of life";
xt.style.left = "764px"; xt.style.top = "1358.5px";
xt.style.transform = "translateX(-50%)";
wrap.appendChild(xt);

// legend
const lt = document.createElement("div");
lt.className = "abs leg";
lt.innerHTML = "Gest. age<br>at birth";
lt.style.left = "1232px"; lt.style.top = "1049px";
wrap.appendChild(lt);
groups.forEach((g, i) => {
  const c = d3.color(groupColors[i]); const f = d3.color(groupColors[i]); f.opacity = 0.4;
  const top = 1120 + i * 49.3;
  const key = document.createElement("div");
  key.className = "abs";
  Object.assign(key.style, {left: "1232.7px", top: top + "px", width: "47.5px", height: "48.5px",
    boxSizing: "border-box", border: "3px solid " + c, background: f.toString()});
  const ln = document.createElement("div");
  ln.className = "abs";
  Object.assign(ln.style, {left: "2px", right: "2px", top: "19.5px", height: "3px", background: c.toString()});
  key.appendChild(ln);
  wrap.appendChild(key);
  const lab = document.createElement("div");
  lab.className = "abs lab";
  lab.textContent = g;
  lab.style.left = "1288px"; lab.style.top = (top + 12.5) + "px";
  wrap.appendChild(lab);
});
</script></body></html>
